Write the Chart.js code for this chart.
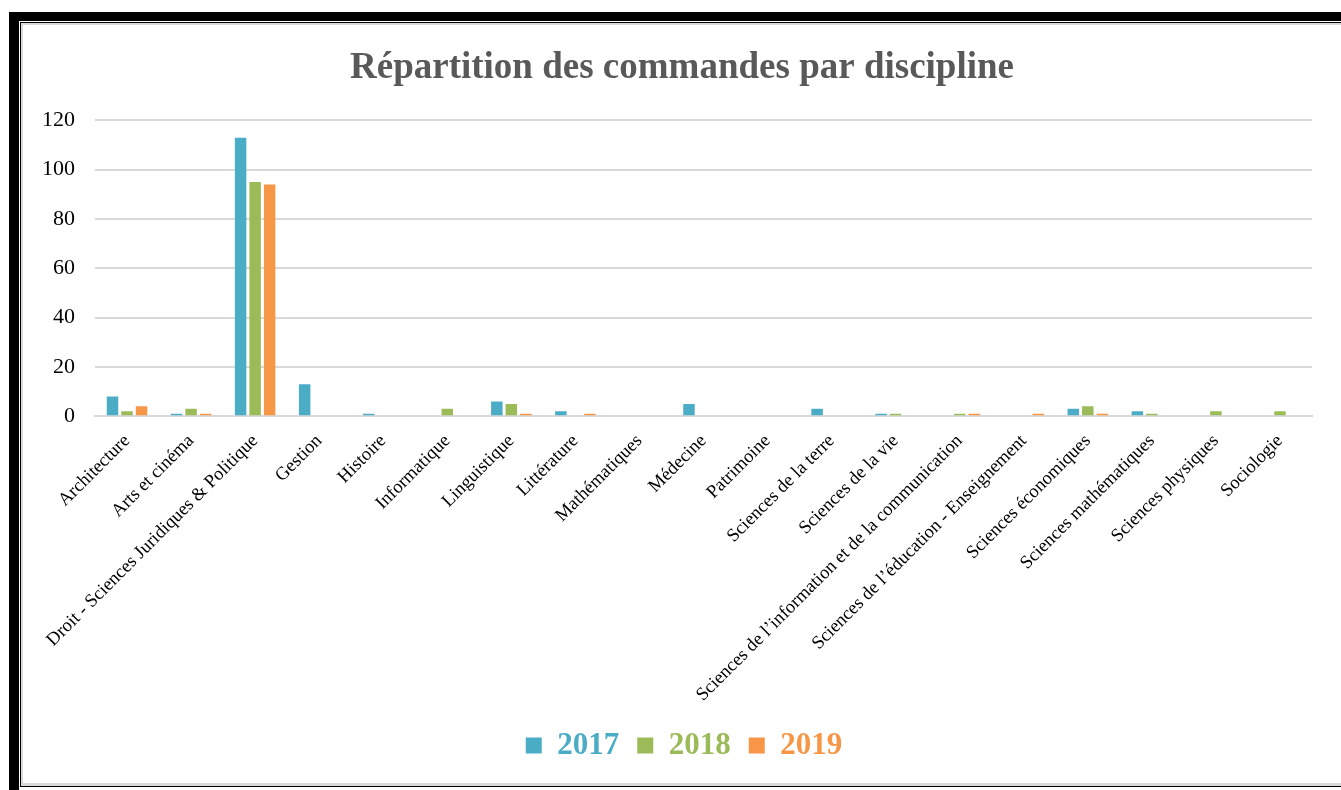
<!DOCTYPE html>
<html lang="fr">
<head>
<meta charset="utf-8">
<title>Répartition des commandes par discipline</title>
<script src="https://cdn.jsdelivr.net/npm/chart.js@4.4.1/dist/chart.umd.min.js"></script>
<style>
    html, body { margin: 0; padding: 0; background: #fff; overflow: hidden; }
    .frame-outer {
        position: absolute; left: 9px; top: 12px; width: 1400px; height: 800px;
        border-left: 10px solid #000; border-top: 9px solid #000;
        box-sizing: border-box; padding: 1px 0 0 1px; background: #fff;
    }
    .frame-inner {
        width: 100%; height: 765px; box-sizing: border-box;
        border-left: 1px solid #000; border-top: 1px solid #000; border-bottom: 1px solid #000;
        box-shadow: inset 2px 2px 0 #d9d9d9, inset 0 -3px 0 #d9d9d9;
    }
    #chart-wrap { position: absolute; left: 0; top: 0; width: 1341px; height: 790px; }
</style>
</head>
<body>
<div class="frame-outer"><div class="frame-inner"></div></div>
<div id="chart-wrap"><canvas id="discipline-chart"></canvas></div>
<script>
// Categories (disciplines)
const disciplines = [
    'Architecture',
    'Arts et cinéma',
    'Droit - Sciences Juridiques & Politique',
    'Gestion',
    'Histoire',
    'Informatique',
    'Linguistique',
    'Littérature',
    'Mathématiques',
    'Médecine',
    'Patrimoine',
    'Sciences de la terre',
    'Sciences de la vie',
    'Sciences de l’information et de la communication',
    'Sciences de l’éducation - Enseignement',
    'Sciences économiques',
    'Sciences mathématiques',
    'Sciences physiques',
    'Sociologie'
];

// Orders per year
const orders2017 = [8, 1, 113, 13, 1, 0, 6, 2, 0, 5, 0, 3, 1, 0, 0, 3, 2, 0, 0];
const orders2018 = [2, 3, 95, 0, 0, 3, 5, 0, 0, 0, 0, 0, 1, 1, 0, 4, 1, 2, 2];
const orders2019 = [4, 1, 94, 0, 0, 0, 1, 1, 0, 0, 0, 0, 0, 1, 1, 1, 0, 0, 0];

const yearLabels = ['2017', '2018', '2019'];
const yearColors = ['#4bacc6', '#9bbb59', '#f79646'];
const yTicks = [0, 20, 40, 60, 80, 100, 120];

const serif = '"Liberation Serif", "Times New Roman", serif';

// Title and legend sit a little right of the plot centre in the original
const blockShift = {
    id: 'blockShift',
    afterLayout(chart) {
        if (chart.titleBlock) {
            chart.titleBlock.left += 15;
            chart.titleBlock.right += 15;
        }
        if (chart.legend) {
            chart.legend.left += 17;
            chart.legend.right += 17;
        }
    }
};

const datasets = [orders2017, orders2018, orders2019].map((values, i) => ({
    label: yearLabels[i],
    data: values,
    backgroundColor: yearColors[i],
    borderWidth: 0,
    categoryPercentage: 0.68,
    barPercentage: 0.79
}));

new Chart(document.getElementById('discipline-chart'), {
    type: 'bar',
    data: { labels: disciplines, datasets },
    plugins: [blockShift],
    options: {
        responsive: true,
        maintainAspectRatio: false,
        animation: false,
        layout: {
            padding: { left: 22, right: 29, top: 46, bottom: 19 }
        },
        plugins: {
            title: {
                display: true,
                text: 'Répartition des commandes par discipline',
                color: '#595959',
                font: { family: serif, size: 37, weight: 'bold' },
                padding: { top: 0, bottom: 30 }
            },
            legend: {
                position: 'bottom',
                labels: {
                    boxWidth: 16,
                    boxHeight: 16,
                    padding: 18,
                    font: { family: serif, size: 31, weight: 'bold' },
                    generateLabels(chart) {
                        return chart.data.datasets.map((ds, i) => ({
                            text: ds.label,
                            fillStyle: yearColors[i],
                            strokeStyle: yearColors[i],
                            fontColor: yearColors[i],
                            lineWidth: 0,
                            datasetIndex: i
                        }));
                    }
                }
            },
            tooltip: { enabled: false }
        },
        scales: {
            x: {
                grid: { display: false },
                border: { color: '#d9d9d9', width: 2 },
                ticks: {
                    color: '#000',
                    minRotation: 45,
                    maxRotation: 45,
                    autoSkip: false,
                    padding: 6,
                    font: { family: serif, size: 18.5 }
                }
            },
            y: {
                min: 0,
                max: 120,
                afterBuildTicks(scale) {
                    scale.ticks = yTicks.map(v => ({ value: v }));
                },
                grid: { color: '#d9d9d9', lineWidth: 2, drawTicks: false },
                border: { display: false },
                ticks: {
                    color: '#000',
                    padding: 20,
                    font: { family: serif, size: 22 }
                }
            }
        }
    }
});
</script>
</body>
</html>
